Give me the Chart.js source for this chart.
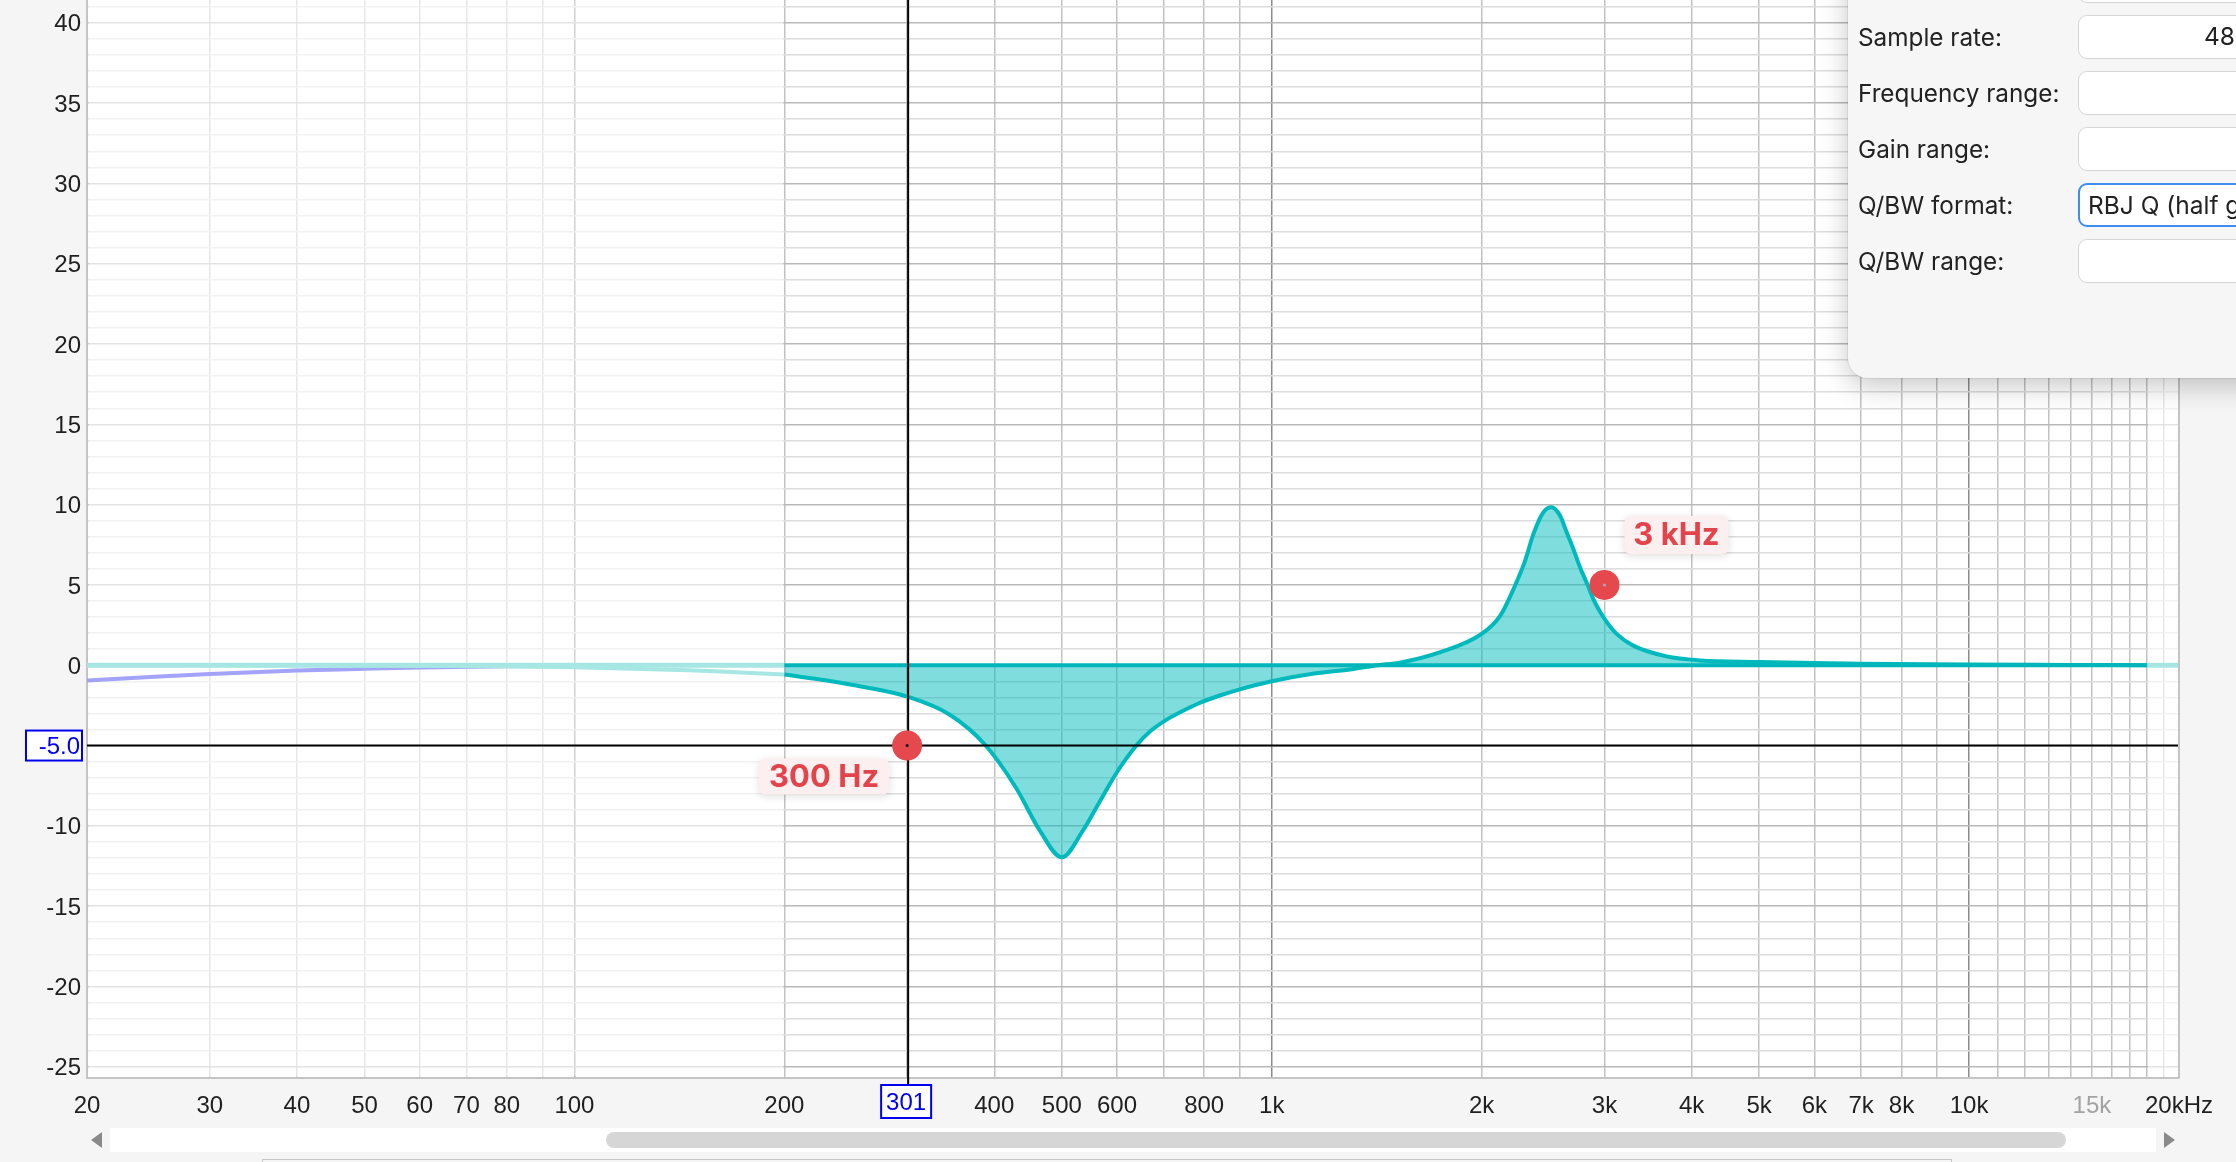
<!DOCTYPE html>
<html>
<head>
<meta charset="utf-8">
<script src="https://cdn.jsdelivr.net/npm/chart.js@4.4.1/dist/chart.umd.min.js"></script>
<style>
html,body{margin:0;padding:0;width:2236px;height:1162px;overflow:hidden;background:#f5f5f5;}
#c{position:absolute;left:0;top:0;}
.panel{position:absolute;left:1848px;top:-40px;width:460px;height:418px;background:#f6f6f6;border-radius:20px;
  box-shadow:0 8px 28px rgba(0,0,0,0.22),0 0 0 1px rgba(0,0,0,0.07);font-family:Inter,'Noto Sans',sans-serif;font-size:24.3px;color:#222;z-index:5;}
.lbl{position:absolute;left:10px;height:30px;line-height:30px;white-space:nowrap;}
.box{position:absolute;left:230px;width:320px;height:44px;background:#fff;border:1.5px solid #d6d6d6;border-radius:9px;box-sizing:border-box;overflow:hidden;}
.box.focus{border:2.5px solid #3f8cf2;}
.box span{position:absolute;top:0;line-height:41px;white-space:nowrap;font-size:24.5px;color:#222;}
.track{position:absolute;left:110px;top:1128px;width:2046px;height:24px;background:#fff;}
.thumb{position:absolute;left:606px;top:1132px;width:1460px;height:16px;border-radius:8px;background:#d6d6d6;}
.arrL{position:absolute;left:91px;top:1132px;width:0;height:0;border-top:8px solid transparent;border-bottom:8px solid transparent;border-right:11px solid #8a8a8a;}
.arrR{position:absolute;left:2164px;top:1132px;width:0;height:0;border-top:8px solid transparent;border-bottom:8px solid transparent;border-left:11px solid #8a8a8a;}
.bottomBox{position:absolute;left:262px;top:1159px;width:1690px;height:10px;border:1px solid #c8c8c8;box-sizing:border-box;}
</style>
</head>
<body>
<canvas id="c" width="2236" height="1162"></canvas>

<div class="panel">
  <div class="box" style="top:-1px"></div>
  <div class="lbl" style="top:62px">Sample rate:</div>
  <div class="box" style="top:55px"><span style="left:125px">48</span></div>
  <div class="lbl" style="top:118px">Frequency range:</div>
  <div class="box" style="top:111px"></div>
  <div class="lbl" style="top:174px">Gain range:</div>
  <div class="box" style="top:167px"></div>
  <div class="lbl" style="top:230px">Q/BW format:</div>
  <div class="box focus" style="top:223px"><span style="left:8px">RBJ Q (half gain)</span></div>
  <div class="lbl" style="top:286px">Q/BW range:</div>
  <div class="box" style="top:279px"></div>
</div>

<div class="track"></div>
<div class="thumb"></div>
<div class="arrL"></div>
<div class="arrR"></div>
<div class="bottomBox"></div>

<script>
// ---------- data ----------
const xMin = 20, xMax = 20000;
const yMin = -25.7, yMax = 41.42;

const gridFreqs = [20,30,40,50,60,70,80,90,100,200,300,400,500,600,700,800,900,
  1000,2000,3000,4000,5000,6000,7000,8000,9000,10000,11000,12000,13000,14000,15000,
  16000,17000,18000,19000,20000];
const majorFreqs = [100,1000,10000];

const xLabelValues = [20,30,40,50,60,70,80,100,200,400,500,600,800,1000,2000,3000,4000,5000,6000,7000,8000,10000,15000,20000];
const xLabelTexts  = ['20','30','40','50','60','70','80','100','200','400','500','600','800','1k','2k','3k','4k','5k','6k','7k','8k','10k','15k','20kHz'];
const dimLabelValues = [15000];

const yGridValues = [-25,-24,-23,-22,-21,-20,-19,-18,-17,-16,-15,-14,-13,-12,-11,-10,-9,-8,-7,-6,-5,-4,-3,-2,-1,
  0,1,2,3,4,5,6,7,8,9,10,11,12,13,14,15,16,17,18,19,20,21,22,23,24,25,26,27,28,29,30,31,32,33,34,35,36,37,38,39,40,41];
const yLabelValues = [40,35,30,25,20,15,10,5,0,-10,-15,-20,-25];

// active filter range
const activeMin = 200, activeMax = 18000;

// combined EQ response inside the active range (Hz, dB)
const activeFreqs = [200,230,260,301,345,388,430,465,500,536,567,601,640,670,706,745,788,840,900,1000,1150,1310,1420,1525,1741,2000,2127,2222,2304,2373,2453,2516,2590,2648,2707,2767,2844,2891,2955,3021,3123,3299,3683,4112,5000,5715,7000,10000,14000,18000];
const activeGains = [-0.58,-0.95,-1.35,-1.97,-3.07,-4.95,-7.64,-10.3,-11.96,-10.3,-8.47,-6.6,-4.98,-4.1,-3.4,-2.85,-2.35,-1.9,-1.5,-1.0,-0.52,-0.23,0.0,0.16,0.8,1.95,3.09,4.75,6.4,8.18,9.53,9.84,9.32,8.28,7.24,6.1,4.9,4.13,3.34,2.7,1.95,1.22,0.55,0.3,0.2,0.15,0.1,0.05,0.02,0.0];

// response outside the active range (light curve)
const lowFreqs = [20,50,80,100,146,170,200];
const lowGains = [0,-0.02,-0.07,-0.12,-0.31,-0.43,-0.58];

// low-frequency (purple) curve
const purpleFreqs = [20,25,30,40,50,60,80,100,120];
const purpleGains = [-0.95,-0.72,-0.54,-0.33,-0.22,-0.14,-0.06,-0.02,0];

// filter handles
const handleFreqs = [300,3000];
const handleGains = [-5,5];
const handleLabels = ['300 Hz','3 kHz'];

// cursor
const cursorFreq = 301, cursorGain = -5;
const cursorXLabel = '301', cursorYLabel = '-5.0';

// ---------- helpers ----------
const pts = (f,g) => f.map((v,i)=>({x:v,y:g[i]}));
const labelMap = {};
xLabelValues.forEach((v,i)=>{ labelMap[v] = xLabelTexts[i]; });

const TICK_FONT = {family:"'Liberation Sans', Arial, sans-serif", size:24};

const decor = {
  id:'decor',
  beforeDraw(chart){
    const {ctx, chartArea:a} = chart;
    ctx.save();
    ctx.fillStyle = '#f5f5f5';
    ctx.fillRect(0,0,chart.width,chart.height);
    ctx.fillStyle = '#ffffff';
    ctx.fillRect(a.left,a.top,a.right-a.left,a.bottom-a.top);
    ctx.restore();
  },
  beforeDatasetsDraw(chart){
    const {ctx, chartArea:a, scales:{x}} = chart;
    ctx.save();
    ctx.fillStyle = 'rgba(255,255,255,0.6)';
    const x1 = x.getPixelForValue(activeMin) - 1;
    ctx.fillRect(a.left+1.5, a.top, x1-(a.left+1.5), a.bottom-a.top-1.5);
    const x2 = x.getPixelForValue(activeMax) + 1;
    ctx.fillRect(x2, a.top, a.right-1-x2, a.bottom-a.top-1.5);
    ctx.restore();
  },
  afterDatasetsDraw(chart){
    const {ctx, scales:{x,y}} = chart;
    ctx.save();
    ctx.font = "700 31px Inter, 'Noto Sans', sans-serif";
    ctx.textAlign = 'center';
    ctx.textBaseline = 'middle';
    handleFreqs.forEach((f,i)=>{
      const px = x.getPixelForValue(f), py = y.getPixelForValue(handleGains[i]);
      let bx, by, bw, bh;
      if (i === 0) { bw = 130; bh = 36; bx = px - 148; by = py + 13; }
      else { bw = 104; bh = 38; bx = px + 20; by = py - 69; }
      ctx.save();
      ctx.shadowColor = 'rgba(0,0,0,0.13)';
      ctx.shadowBlur = 8; ctx.shadowOffsetY = 2;
      ctx.fillStyle = '#fbeff0';
      ctx.beginPath(); ctx.roundRect(bx,by,bw,bh,6); ctx.fill();
      ctx.restore();
      ctx.fillStyle = '#e3444b';
      ctx.fillText(handleLabels[i], bx + bw/2, by + bh/2 + 1);
    });
    ctx.restore();
  },
  afterDraw(chart){
    const {ctx, chartArea:a, scales:{x,y}} = chart;
    ctx.save();
    // right plot border
    ctx.strokeStyle = '#c4c4c4'; ctx.lineWidth = 2;
    ctx.beginPath(); ctx.moveTo(a.right, a.top); ctx.lineTo(a.right, a.bottom); ctx.stroke();
    // cursor y box
    const cy = y.getPixelForValue(cursorGain);
    ctx.strokeStyle = '#0000f0'; ctx.lineWidth = 2;
    ctx.fillStyle = '#ffffff';
    ctx.fillRect(a.left-61, cy-15, 56, 30);
    ctx.strokeRect(a.left-61, cy-15, 56, 30);
    ctx.fillStyle = '#0000f0';
    ctx.font = "24px 'Liberation Sans', Arial, sans-serif";
    ctx.textAlign = 'right'; ctx.textBaseline = 'middle';
    ctx.fillText(cursorYLabel, a.left-7, cy+2);
    // cursor x extension + box
    const cx = x.getPixelForValue(cursorFreq);
    ctx.strokeStyle = '#000'; ctx.lineWidth = 2;
    ctx.beginPath(); ctx.moveTo(cx, a.bottom); ctx.lineTo(cx, a.bottom+7); ctx.stroke();
    ctx.strokeStyle = '#0000f0';
    ctx.fillStyle = '#ffffff';
    ctx.fillRect(cx-27, a.bottom+7, 50, 33);
    ctx.strokeRect(cx-27, a.bottom+7, 50, 33);
    ctx.fillStyle = '#0000f0';
    ctx.textAlign = 'center';
    ctx.fillText(cursorXLabel, cx-2, a.bottom+25);
    ctx.restore();
  }
};

new Chart(document.getElementById('c'), {
  type:'line',
  data:{
    datasets:[
      {label:'handle centers', data:pts(handleFreqs,handleGains), showLine:false,
       pointRadius:1.5, pointHoverRadius:1.5, pointBackgroundColor:['#111','#aaa'], pointBorderWidth:0, order:0},
      {label:'handles', data:pts(handleFreqs,handleGains), showLine:false,
       pointRadius:15, pointHoverRadius:15, pointBackgroundColor:'#e5484d', pointBorderWidth:0, order:1},
      {label:'cursor h', data:[{x:xMin,y:cursorGain},{x:xMax,y:cursorGain}],
       borderColor:'#000', borderWidth:2, pointRadius:0, order:3},
      {label:'cursor v', data:[{x:cursorFreq,y:yMin},{x:cursorFreq,y:yMax}],
       borderColor:'#000', borderWidth:2, pointRadius:0, order:3},
      {label:'zero active', data:[{x:activeMin,y:0},{x:activeMax,y:0}],
       borderColor:'#00b5b9', borderWidth:4, pointRadius:0, order:6},
      {label:'response', data:pts(activeFreqs,activeGains),
       borderColor:'#00b9bc', borderWidth:4, pointRadius:0, fill:'origin',
       backgroundColor:'rgba(0,190,187,0.5)', cubicInterpolationMode:'monotone', order:7},
      {label:'response low', data:pts(lowFreqs,lowGains),
       borderColor:'#a6e7e4', borderWidth:4, pointRadius:0, cubicInterpolationMode:'monotone', order:8},
      {label:'zero inactive', data:[{x:xMin,y:0},{x:activeMin,y:0},{x:1000,y:null},{x:activeMax,y:0},{x:xMax,y:0}],
       borderColor:'#a6e7e4', borderWidth:5, pointRadius:0, spanGaps:false, order:9},
      {label:'purple', data:pts(purpleFreqs,purpleGains),
       borderColor:'#a3a3f9', borderWidth:4, pointRadius:0, cubicInterpolationMode:'monotone', order:10}
    ]
  },
  options:{
    responsive:false,
    animation:false,
    events:[],
    devicePixelRatio:1,
    layout:{padding:{left:0,right:57,top:0,bottom:0}, autoPadding:false},
    plugins:{legend:{display:false}, tooltip:{enabled:false}},
    scales:{
      x:{
        type:'logarithmic', min:xMin, max:xMax, bounds:'data',
        afterBuildTicks:(s)=>{ s.ticks = gridFreqs.map(v=>({value:v})); },
        afterFit:(s)=>{ s.height = 84; s.paddingLeft = 0; s.paddingRight = 0; },
        ticks:{autoSkip:false, maxRotation:0, minRotation:0, padding:14, font:TICK_FONT,
          callback:(v)=> labelMap[v] !== undefined ? labelMap[v] : '',
          color:(ctx)=> (ctx.tick && dimLabelValues.includes(ctx.tick.value)) ? '#a3a3a3' : '#1f1f1f'},
        grid:{drawTicks:false, lineWidth:1.5,
          color:(ctx)=> (ctx.tick && majorFreqs.includes(ctx.tick.value)) ? '#8c8c8c' : '#c2c2c2'},
        border:{display:true, color:'#c4c4c4', width:2}
      },
      y:{
        type:'linear', min:yMin, max:yMax, bounds:'data',
        afterBuildTicks:(s)=>{ s.ticks = yGridValues.map(v=>({value:v})); },
        afterFit:(s)=>{ s.width = 87; s.paddingTop = 0; s.paddingBottom = 0; },
        ticks:{autoSkip:false, padding:6, labelOffset:2, font:TICK_FONT, color:'#1f1f1f',
          callback:(v)=> yLabelValues.includes(v) ? String(v) : ''},
        grid:{drawTicks:false, lineWidth:1.5,
          color:(ctx)=> (ctx.tick && ctx.tick.value % 5 === 0) ? '#b9b9b9' : '#dcdcdc'},
        border:{display:true, color:'#c4c4c4', width:2}
      }
    }
  },
  plugins:[decor]
});
</script>
</body>
</html>
